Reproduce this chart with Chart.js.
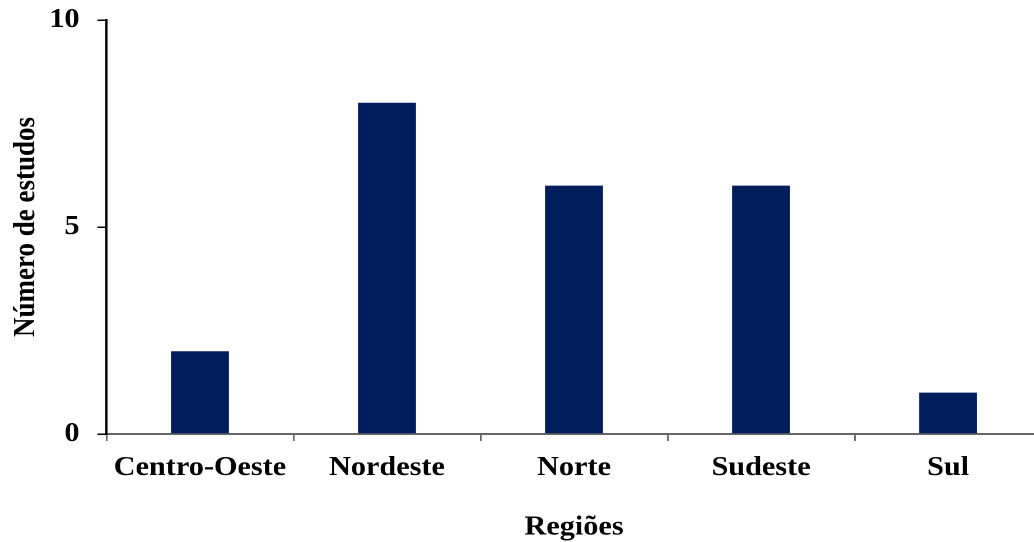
<!DOCTYPE html>
<html>
<head>
<meta charset="utf-8">
<script src="https://cdn.jsdelivr.net/npm/chart.js@4/dist/chart.umd.min.js"></script>
<style>
  html, body { margin: 0; padding: 0; background: #ffffff; overflow: hidden; width: 1034px; height: 542px; }
  /* the figure is drawn slightly widened horizontally */
  #wrap { position: absolute; left: 0; top: 0; width: 930px; height: 542px; transform: scaleX(1.12); transform-origin: 0 0; }
</style>
</head>
<body>
<div id="wrap"><canvas id="chart" width="930" height="542"></canvas></div>
<script>
const categories = ['Centro-Oeste', 'Nordeste', 'Norte', 'Sudeste', 'Sul'];
const studies = [2, 8, 6, 6, 1];
const yTicks = [0, 5, 10];
const xTitle = 'Regiões';
const yTitle = 'Número de estudos';

const serif = '"Liberation Serif", "Times New Roman", serif';

new Chart(document.getElementById('chart'), {
  type: 'bar',
  data: {
    labels: categories,
    datasets: [{
      data: studies,
      backgroundColor: '#001E5C',
      borderWidth: 0,
      barPercentage: 0.31,
      categoryPercentage: 1.0
    }]
  },
  options: {
    responsive: false,
    animation: false,
    devicePixelRatio: 2,
    layout: { padding: { top: 20, left: 0, right: 0, bottom: 0 } },
    plugins: { legend: { display: false }, tooltip: { enabled: false } },
    scales: {
      x: {
        offset: true,
        grid: { drawOnChartArea: false, offset: true, tickLength: 7, color: '#666666', lineWidth: 1.5 },
        border: { color: '#666666', width: 2 },
        ticks: { color: '#000000', padding: 11, font: { family: serif, size: 27, weight: 'bold' } },
        title: { display: true, text: xTitle, color: '#000000', padding: { top: 0, bottom: 1 },
                 font: { family: serif, size: 27, weight: 'bold', lineHeight: 1 } },
        afterFit: (scale) => { scale.height = 108; scale.paddingLeft = 0; scale.paddingRight = 0; }
      },
      y: {
        min: 0,
        max: 10,
        afterBuildTicks: (scale) => { scale.ticks = yTicks.map(v => ({ value: v })); },
        grid: { drawOnChartArea: false, tickLength: 8, color: '#000000', lineWidth: 1.5 },
        border: { color: '#000000', width: 2 },
        ticks: { color: '#000000', padding: 16, font: { family: serif, size: 27, weight: 'bold' } },
        title: { display: true, text: yTitle, color: '#000000', padding: { top: 10, bottom: 0 },
                 font: { family: serif, size: 27, weight: 'bold', lineHeight: 1 } },
        afterFit: (scale) => { scale.width = 95; scale.paddingTop = 0; scale.paddingBottom = 0; }
      }
    }
  }
});
</script>
</body>
</html>
